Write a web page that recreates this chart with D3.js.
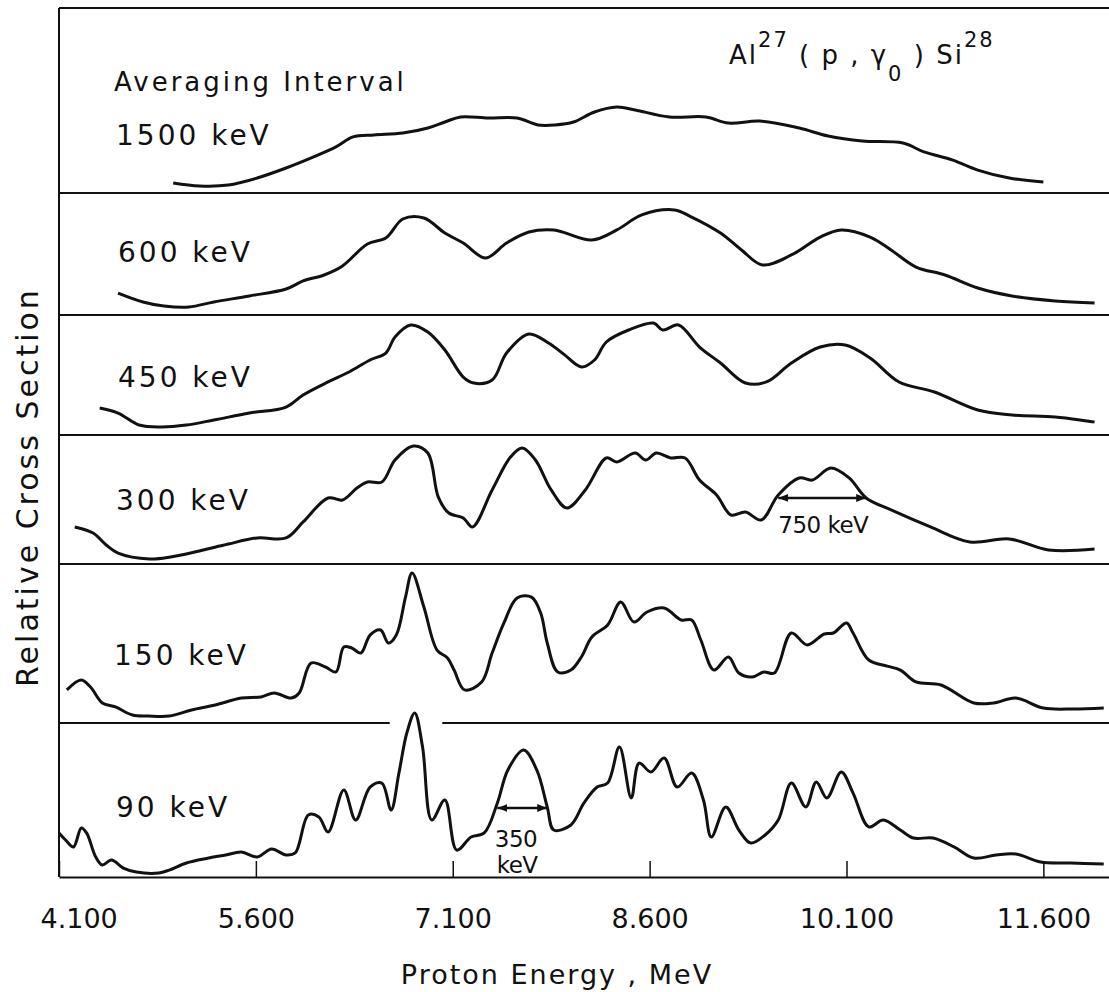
<!DOCTYPE html>
<html>
<head>
<meta charset="utf-8">
<script src="https://cdn.jsdelivr.net/npm/d3@7"></script>
<style>
  body { margin: 0; background: #fff; }
  text { font-family: "DejaVu Sans", sans-serif; fill: #111; }
</style>
</head>
<body>
<div id="chart"></div>
<script>
// proton energy (MeV) and relative cross section (% of panel height) per averaging interval
var energy1500 = [4.97,5.17,5.39,5.61,5.83,6.04,6.21,6.34,6.50,6.72,6.91,7.04,7.16,7.37,7.59,7.75,7.88,8.02,8.18,8.35,8.49,8.75,9.03,9.20,9.44,9.74,9.96,10.22,10.53,10.69,10.91,11.10,11.34,11.60];
var sigma1500 = [5.4,3.8,4.3,8.1,13.5,19.5,24.9,30.3,31.4,32.4,35.1,38.4,41.1,40.5,40.5,36.8,36.8,38.4,43.8,46.5,44.9,41.1,41.1,37.8,38.9,35.1,30.8,28.1,27.0,22.2,17.8,12.4,8.1,5.9];

var energy600 = [4.55,4.74,4.90,5.09,5.28,5.55,5.83,5.96,6.12,6.26,6.45,6.59,6.72,6.88,7.04,7.18,7.35,7.51,7.68,7.87,8.16,8.35,8.54,8.79,8.92,9.14,9.30,9.46,9.68,9.90,10.06,10.28,10.44,10.63,10.85,11.10,11.36,11.69,11.99];
var sigma600 = [18.0,10.7,7.4,6.6,10.7,15.6,21.3,27.9,32.8,40.2,58.2,63.1,78.7,79.5,67.2,59.0,46.7,59.0,68.0,69.7,61.5,69.7,82.0,86.1,80.3,67.2,53.3,41.0,49.2,63.9,69.7,63.9,53.3,39.3,32.8,22.1,15.6,11.5,9.8];

var energy450 = [4.41,4.55,4.71,4.88,5.07,5.28,5.55,5.83,5.96,6.15,6.31,6.47,6.59,6.66,6.78,6.91,7.04,7.18,7.26,7.40,7.51,7.68,7.83,7.95,8.08,8.18,8.27,8.44,8.63,8.70,8.82,8.98,9.14,9.33,9.49,9.68,9.90,10.09,10.28,10.50,10.77,11.10,11.36,11.69,11.99];
var sigma450 = [22.5,18.3,8.3,6.7,8.3,12.5,18.3,23.3,33.3,44.2,52.5,62.5,68.3,81.7,91.7,85.8,70.8,48.3,43.3,45.8,68.3,84.2,76.7,67.0,56.7,62.5,77.5,87.5,93.3,87.5,91.7,73.3,60.0,43.3,44.2,60.0,73.3,75.0,64.2,44.2,35.8,20.8,16.7,15.0,10.8];

var energy300 = [4.22,4.36,4.46,4.55,4.79,4.95,5.17,5.39,5.61,5.83,5.96,6.15,6.26,6.37,6.45,6.56,6.66,6.80,6.91,6.99,7.07,7.18,7.25,7.40,7.54,7.63,7.73,7.85,7.97,8.11,8.27,8.35,8.49,8.57,8.65,8.76,8.87,8.98,9.11,9.22,9.33,9.45,9.58,9.74,9.84,9.98,10.12,10.25,10.44,10.74,11.04,11.34,11.64,11.99];
var sigma300 = [28.7,24.0,14.7,8.5,3.9,5.4,10.1,15.5,20.2,20.2,32.6,51.2,49.6,58.9,63.6,63.6,80.6,91.5,86.0,51.9,39.5,35.7,28.7,57.4,82.9,89.9,80.6,57.4,43.4,57.4,82.2,79.1,86.0,80.6,86.0,82.2,82.2,65.1,53.5,38.0,40.3,34.1,53.5,66.7,65.1,74.4,66.7,51.2,41.9,28.7,17.1,19.4,10.9,11.6];

var energy150 = [4.16,4.27,4.34,4.43,4.53,4.66,4.78,4.94,5.11,5.29,5.49,5.64,5.74,5.87,5.93,6.02,6.13,6.21,6.27,6.33,6.40,6.47,6.55,6.61,6.67,6.74,6.79,6.88,6.98,7.06,7.11,7.19,7.32,7.40,7.49,7.59,7.70,7.77,7.82,7.90,8.00,8.08,8.16,8.28,8.38,8.48,8.58,8.71,8.84,8.92,8.99,9.09,9.20,9.28,9.38,9.47,9.55,9.68,9.80,9.93,10.00,10.10,10.15,10.27,10.41,10.51,10.63,10.82,11.07,11.22,11.39,11.60,11.83,12.06];
var sigma150 = [20.8,27.0,22.6,12.6,10.1,5.0,4.4,4.4,8.2,11.3,15.7,16.4,18.9,15.7,18.9,37.7,35.2,32.1,47.8,47.2,44.0,55.3,58.5,50.3,55.3,79.2,94.3,73.0,45.9,40.9,33.3,20.8,25.8,44.0,62.9,78.6,79.2,69.2,50.3,32.1,33.3,41.5,54.1,61.6,76.1,63.5,69.8,72.3,64.8,64.8,52.2,33.3,41.5,31.4,28.9,32.1,31.4,56.6,49.1,56.0,56.6,62.9,56.6,39.6,35.8,33.3,25.8,23.9,12.6,12.6,15.7,9.4,8.8,9.4];

var energy90 = [4.10,4.15,4.21,4.27,4.31,4.38,4.43,4.50,4.59,4.69,4.86,4.94,5.07,5.24,5.37,5.49,5.61,5.72,5.83,5.90,6.00,6.08,6.15,6.27,6.36,6.47,6.56,6.63,6.69,6.75,6.81,6.87,6.94,7.04,7.13,7.24,7.34,7.44,7.52,7.64,7.74,7.82,7.87,8.00,8.10,8.20,8.28,8.37,8.46,8.52,8.61,8.71,8.81,8.92,9.01,9.07,9.18,9.28,9.37,9.48,9.58,9.68,9.79,9.87,9.95,10.06,10.15,10.27,10.38,10.51,10.61,10.76,10.92,11.07,11.24,11.39,11.58,11.81,12.06];
var sigma90 = [28.6,24.0,19.5,31.8,28.6,13.0,7.8,11.0,5.8,3.2,2.6,4.5,9.1,12.3,14.3,16.2,13.0,18.2,14.3,15.6,40.3,39.0,29.2,56.5,37.0,58.4,61.0,43.5,67.5,93.5,106.5,84.4,37.0,50.0,17.5,26.0,28.6,48.1,69.5,82.5,69.5,45.5,30.5,33.8,48.1,58.4,61.0,84.4,51.3,74.0,68.2,77.3,58.4,67.5,50.0,26.0,45.5,30.5,22.1,27.3,37.0,61.0,45.5,61.7,51.3,68.2,54.5,32.5,37.0,30.5,25.3,25.3,19.5,12.3,14.3,14.9,9.7,9.1,8.4];

var intervals = ["1500 keV", "600 keV", "450 keV", "300 keV", "150 keV", "90 keV"];
var tickValues = [4.1, 5.6, 7.1, 8.6, 10.1, 11.6];

var series = [
  {name: intervals[0], e: energy1500, s: sigma1500},
  {name: intervals[1], e: energy600, s: sigma600},
  {name: intervals[2], e: energy450, s: sigma450},
  {name: intervals[3], e: energy300, s: sigma300},
  {name: intervals[4], e: energy150, s: sigma150},
  {name: intervals[5], e: energy90, s: sigma90}
];

// resolution markers: panel, arrow span in MeV, arrow level, label lines
var widthMarks = [
  {panel: 3, from: 9.58, to: 10.25, level: 51.2, lines: ["750 keV"], textE: [9.58], textV: [24.0]},
  {panel: 5, from: 7.44, to: 7.82, level: 44.8, lines: ["350", "keV"], textE: [7.42, 7.435], textV: [19.5, 2.6]}
];

// layout
var width = 1109, height = 992;
var left = 59, right = 1109;
var edges = [8, 193, 315, 435, 564, 723, 877];
var labelX = [116, 118, 118, 116, 114, 116];
var labelY = [145, 262, 387, 510, 665, 817];

var svg = d3.select("#chart").append("svg")
    .attr("width", width)
    .attr("height", height);

svg.append("defs").append("marker")
    .attr("id", "arrow")
    .attr("viewBox", "0 0 10 8")
    .attr("refX", 10).attr("refY", 4)
    .attr("markerWidth", 10).attr("markerHeight", 8)
    .attr("markerUnits", "userSpaceOnUse")
    .attr("orient", "auto-start-reverse")
  .append("path")
    .attr("d", "M0,0L10,4L0,8z")
    .attr("fill", "#111");

var x = d3.scaleLinear()
    .domain([4.1, 12.1])
    .range([left, right]);

var yScales = series.map(function(d, i) {
  return d3.scaleLinear().domain([0, 100]).range([edges[i + 1], edges[i]]);
});

// frame: left edge, top edge and panel separators
svg.append("line")
    .attr("x1", left).attr("x2", left)
    .attr("y1", edges[0]).attr("y2", edges[6])
    .attr("stroke", "#111").attr("stroke-width", 2);

edges.slice(0, 6).forEach(function(yy, i) {
  var segs = [[4.1, 12.1]];
  // the 90 keV peak breaks through the line above it
  if (i === 5) segs = [[4.1, 6.62], [7.02, 12.1]];
  segs.forEach(function(s) {
    svg.append("line")
        .attr("x1", x(s[0])).attr("x2", x(s[1]))
        .attr("y1", yy).attr("y2", yy)
        .attr("stroke", "#111").attr("stroke-width", 2);
  });
});

// bottom axis
var xAxis = d3.axisBottom(x)
    .tickValues(tickValues)
    .tickFormat(d3.format(".3f"))
    .tickSizeInner(-16)
    .tickSizeOuter(0)
    .tickPadding(32);

var ax = svg.append("g")
    .attr("transform", "translate(0," + edges[6] + ")")
    .call(xAxis);
ax.select(".domain").attr("stroke", "#111").attr("stroke-width", 2);
ax.selectAll(".tick line").attr("stroke", "#111").attr("stroke-width", 1.5);
ax.selectAll(".tick text")
    .attr("font-family", "DejaVu Sans, sans-serif")
    .attr("font-size", 27)
    .attr("fill", "#111");
// first label sits to the right of the frame corner
ax.selectAll(".tick text").filter(function(d) { return d === 4.1; })
    .attr("text-anchor", "start")
    .attr("x", -19);

// curves
var line = d3.line()
    .x(function(d) { return x(d[0]); })
    .curve(d3.curveCatmullRom.alpha(0.5));

series.forEach(function(d, i) {
  var pts = d.e.map(function(e, k) { return [e, d.s[k]]; });
  svg.append("path")
      .datum(pts)
      .attr("fill", "none")
      .attr("stroke", "#111")
      .attr("stroke-width", 3)
      .attr("stroke-linejoin", "round")
      .attr("d", line.y(function(p) { return yScales[i](p[1]); }));

  svg.append("text")
      .attr("x", labelX[i])
      .attr("y", labelY[i])
      .attr("font-size", 28)
      .attr("letter-spacing", 3)
      .text(d.name);
});

// width markers with arrows
widthMarks.forEach(function(m) {
  var y = yScales[m.panel];
  svg.append("line")
      .attr("x1", x(m.from)).attr("x2", x(m.to))
      .attr("y1", y(m.level)).attr("y2", y(m.level))
      .attr("stroke", "#111").attr("stroke-width", 2.5)
      .attr("marker-start", "url(#arrow)")
      .attr("marker-end", "url(#arrow)");
  m.lines.forEach(function(t, k) {
    svg.append("text")
        .attr("x", x(m.textE[k]))
        .attr("y", y(m.textV[k]))
        .attr("font-size", 23)
        .attr("letter-spacing", -0.5)
        .text(t);
  });
});

// texts
svg.append("text")
    .attr("x", 114).attr("y", 91)
    .attr("font-size", 26)
    .attr("letter-spacing", 3)
    .text("Averaging Interval");

var title = svg.append("text")
    .attr("x", 729).attr("y", 64)
    .attr("font-size", 26)
    .attr("letter-spacing", 2);
title.append("tspan").text("Al");
title.append("tspan").attr("font-size", 21).attr("dy", -17).text("27");
title.append("tspan").attr("dy", 17).text(" ( p , γ");
title.append("tspan").attr("font-size", 21).attr("dy", 17).text("0");
title.append("tspan").attr("dy", -17).text(" ) Si");
title.append("tspan").attr("font-size", 21).attr("dy", -17).text("28");

svg.append("text")
    .attr("transform", "translate(38," + 487 + ") rotate(-90)")
    .attr("text-anchor", "middle")
    .attr("font-size", 30)
    .attr("letter-spacing", 3)
    .text("Relative Cross Section");

svg.append("text")
    .attr("x", 557).attr("y", 984)
    .attr("text-anchor", "middle")
    .attr("font-size", 27)
    .attr("letter-spacing", 2)
    .text("Proton Energy , MeV");
</script>
</body>
</html>
